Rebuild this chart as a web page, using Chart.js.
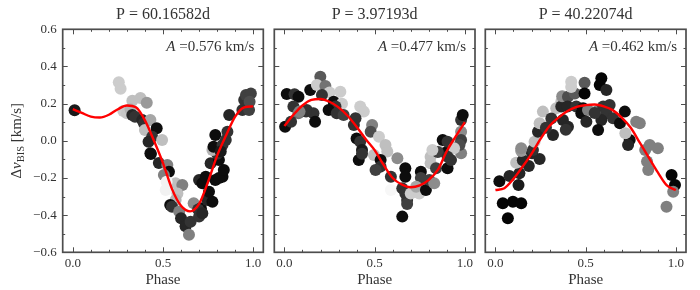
<!DOCTYPE html>
<html>
<head>
<meta charset="utf-8">
<script src="https://cdn.jsdelivr.net/npm/chart.js@4.4.0/dist/chart.umd.min.js"></script>
<style>
  html, body { margin: 0; padding: 0; background: #fff; }
  #wrap { position: relative; width: 700px; height: 290px; }
  #wrap canvas { position: absolute; left: 0; top: 0; }
</style>
</head>
<body>
<div id="wrap">
  <canvas id="panel1" width="700" height="290"></canvas>
  <canvas id="panel2" width="700" height="290"></canvas>
  <canvas id="panel3" width="700" height="290"></canvas>
</div>
<script>
// --- data ---
const periods = ['60.16582', '3.97193', '40.22074'];
const amplitudes = ['0.576', '0.477', '0.462'];
const xTicks = [0, 0.5, 1.0];
const xMinor = [0.1, 0.2, 0.3, 0.4, 0.6, 0.7, 0.8, 0.9];
const yTicks = [-0.6, -0.4, -0.2, 0, 0.2, 0.4, 0.6];
const yMinor = [-0.5, -0.3, -0.1, 0.1, 0.3, 0.5];

// panel 1 (P = 60.16582d), shade: 0 = black, 1 = white
const phase1 = [0.01, 0.255, 0.265, 0.33, 0.375, 0.41, 0.28, 0.30, 0.32, 0.33, 0.345, 0.385, 0.395, 0.43, 0.465, 0.40, 0.44, 0.495, 0.42, 0.43, 0.433, 0.477, 0.524, 0.533, 0.505, 0.57, 0.607, 0.515, 0.58, 0.57, 0.54, 0.55, 0.59, 0.60, 0.625, 0.653, 0.644, 0.67, 0.70, 0.71, 0.695, 0.718, 0.746, 0.774, 0.755, 0.70, 0.718, 0.737, 0.79, 0.83, 0.764, 0.81, 0.80, 0.774, 0.78, 0.79, 0.83, 0.848, 0.857, 0.867, 0.94, 0.95, 0.96, 0.987, 0.977, 0.81, 0.837, 0.82, 0.52, 0.98];
const dv1 = [0.165, 0.315, 0.28, 0.215, 0.23, 0.205, 0.16, 0.148, 0.17, 0.139, 0.13, 0.112, 0.094, 0.112, 0.067, 0.058, 0.022, 0.004, -0.005, -0.067, -0.071, -0.12, -0.13, -0.166, -0.184, -0.229, -0.238, -0.265, -0.283, -0.318, -0.345, -0.355, -0.38, -0.417, -0.46, -0.435, -0.505, -0.336, -0.408, -0.363, -0.37, -0.39, -0.318, -0.328, -0.274, -0.211, -0.229, -0.193, -0.211, -0.193, -0.121, -0.103, -0.07, -0.05, -0.032, 0.031, -0.023, 0.004, 0.049, 0.139, 0.166, 0.22, 0.246, 0.255, 0.166, -0.2, -0.157, -0.058, -0.22, 0.21];
const shade1 = [0.1, 0.8, 0.8, 0.75, 0.75, 0.6, 0.8, 0.78, 0.7, 0.15, 0.2, 0.15, 0.2, 0.65, 0.05, 0.75, 0.2, 0.75, 0.15, 0.1, 0.05, 0.15, 0.5, 0.05, 0.5, 0.75, 0.5, 0.95, 0.75, 0.7, 0.05, 0.2, 0.5, 0.15, 0.15, 0.2, 0.5, 0.55, 0.2, 0.05, 0.2, 0.15, 0.15, 0.05, 0.05, 0.15, 0.05, 0.05, 0.05, 0.05, 0.15, 0.05, 0.2, 0.7, 0.05, 0.05, 0.2, 0.2, 0.2, 0.15, 0.2, 0.2, 0.25, 0.25, 0.25, 0.05, 0.05, 0.1, 0.95, 0.3];

// panel 2 (P = 3.97193d)
const phase2 = [0.004, 0.013, 0.056, 0.078, 0.05, 0.078, 0.037, 0.143, 0.199, 0.18, 0.227, 0.25, 0.31, 0.208, 0.273, 0.319, 0.283, 0.245, 0.124, 0.161, 0.17, 0.29, 0.328, 0.42, 0.44, 0.394, 0.385, 0.40, 0.42, 0.486, 0.478, 0.524, 0.43, 0.56, 0.57, 0.626, 0.412, 0.43, 0.496, 0.533, 0.533, 0.505, 0.59, 0.67, 0.67, 0.59, 0.653, 0.67, 0.68, 0.68, 0.653, 0.70, 0.756, 0.756, 0.747, 0.73, 0.784, 0.803, 0.83, 0.81, 0.81, 0.84, 0.858, 0.904, 0.923, 0.90, 0.979, 0.85, 0.82, 0.877, 0.904, 0.979, 0.979, 0.97, 0.979, 0.988, 0.94, 0.904, 0.12, 0.084];
const dv2 = [0.076, 0.252, 0.25, 0.237, 0.184, 0.148, 0.103, 0.273, 0.345, 0.30, 0.295, 0.26, 0.264, 0.246, 0.21, 0.20, 0.184, 0.166, 0.166, 0.148, 0.103, 0.148, 0.139, 0.184, 0.157, 0.121, 0.085, 0.013, -0.005, 0.085, 0.049, 0.022, -0.05, -0.023, -0.058, -0.094, -0.103, -0.07, -0.076, -0.103, -0.139, -0.157, -0.193, -0.148, -0.193, -0.265, -0.256, -0.283, -0.318, -0.34, -0.408, -0.283, -0.166, -0.20, -0.283, -0.247, -0.265, -0.211, -0.229, -0.121, -0.086, -0.148, -0.058, -0.148, -0.103, -0.06, -0.067, -0.06, -0.05, 0.004, -0.005, 0.049, 0.004, -0.023, 0.112, 0.139, -0.04, -0.086, 0.157, 0.157];
const shade2 = [0.05, 0.05, 0.2, 0.05, 0.2, 0.45, 0.2, 0.05, 0.35, 0.8, 0.45, 0.8, 0.8, 0.2, 0.05, 0.8, 0.2, 0.05, 0.2, 0.2, 0.05, 0.2, 0.25, 0.8, 0.8, 0.2, 0.2, 0.05, 0.2, 0.5, 0.3, 0.8, 0.1, 0.75, 0.75, 0.55, 0.05, 0.2, 0.75, 0.05, 0.2, 0.25, 0.2, 0.05, 0.05, 0.97, 0.2, 0.2, 0.2, 0.25, 0.05, 0.8, 0.05, 0.25, 0.8, 0.65, 0.05, 0.25, 0.55, 0.75, 0.75, 0.25, 0.75, 0.05, 0.2, 0.05, 0.5, 0.25, 0.8, 0.05, 0.2, 0.55, 0.25, 0.3, 0.2, 0.05, 0.8, 0.2, 0.2, 0.5];

// panel 3 (P = 40.22074d)
const phase3 = [0.022, 0.041, 0.097, 0.143, 0.069, 0.078, 0.133, 0.128, 0.115, 0.152, 0.185, 0.143, 0.203, 0.245, 0.208, 0.143, 0.217, 0.236, 0.245, 0.263, 0.319, 0.337, 0.365, 0.365, 0.37, 0.402, 0.44, 0.42, 0.42, 0.494, 0.587, 0.578, 0.615, 0.494, 0.40, 0.448, 0.486, 0.476, 0.513, 0.56, 0.597, 0.633, 0.615, 0.587, 0.652, 0.69, 0.717, 0.78, 0.80, 0.569, 0.504, 0.374, 0.402, 0.39, 0.744, 0.72, 0.855, 0.90, 0.735, 0.83, 0.84, 0.847, 0.976, 0.995, 0.985, 0.948, 0.31, 0.28, 0.55];
const dv3 = [-0.218, -0.336, -0.328, -0.336, -0.417, -0.19, -0.175, -0.238, -0.118, -0.105, -0.135, -0.055, -0.067, -0.098, -0.05, -0.04, -0.005, 0.049, 0.094, 0.157, 0.031, 0.175, 0.21, 0.184, 0.24, 0.237, 0.255, 0.318, 0.29, 0.313, 0.336, 0.30, 0.273, 0.255, 0.184, 0.184, 0.175, 0.148, 0.166, 0.157, 0.184, 0.193, 0.148, 0.112, 0.121, 0.094, 0.157, 0.103, 0.094, 0.058, 0.103, 0.112, 0.076, 0.06, 0.004, 0.04, -0.023, -0.04, -0.023, -0.05, -0.112, -0.157, -0.184, -0.238, -0.274, -0.355, 0.12, 0.07, 0.15];
const shade3 = [0.05, 0.02, 0.02, 0.02, 0.02, 0.15, 0.15, 0.1, 0.75, 0.15, 0.15, 0.6, 0.15, 0.15, 0.2, 0.55, 0.75, 0.15, 0.75, 0.75, 0.15, 0.75, 0.75, 0.15, 0.55, 0.3, 0.35, 0.8, 0.8, 0.35, 0.02, 0.02, 0.15, 0.02, 0.15, 0.2, 0.05, 0.05, 0.5, 0.5, 0.2, 0.2, 0.2, 0.15, 0.2, 0.05, 0.05, 0.5, 0.5, 0.05, 0.15, 0.15, 0.15, 0.2, 0.05, 0.75, 0.5, 0.5, 0.15, 0.5, 0.5, 0.5, 0.02, 0.02, 0.5, 0.5, 0.2, 0.2, 0.2];

// fitted curves, sampled every 0.05 in phase
const curvePhase = [0, 0.05, 0.1, 0.15, 0.2, 0.25, 0.3, 0.35, 0.4, 0.45, 0.5, 0.55, 0.6, 0.65, 0.7, 0.75, 0.8, 0.85, 0.9, 0.95, 1.0];
const curve1 = [0.17, 0.15, 0.13, 0.125, 0.14, 0.17, 0.19, 0.18, 0.11, 0.0, -0.12, -0.26, -0.35, -0.38, -0.34, -0.22, -0.08, 0.03, 0.13, 0.18, 0.185];
const curve2 = [0.08, 0.14, 0.19, 0.22, 0.225, 0.21, 0.18, 0.135, 0.076, 0.01, -0.05, -0.13, -0.20, -0.235, -0.25, -0.24, -0.21, -0.157, -0.055, 0.025, 0.10];
const curve3 = [-0.265, -0.255, -0.205, -0.14, -0.07, 0.01, 0.08, 0.125, 0.16, 0.183, 0.192, 0.195, 0.185, 0.165, 0.125, 0.07, -0.01, -0.09, -0.17, -0.24, -0.265];

// --- layout ---
const W = 700, H = 290;
const areas = [[62.7, 263.3], [274.3, 475], [485.3, 686]];
const TOP = 29.3, BOTTOM = 252.3;
const FONT = "'Liberation Serif', 'Times New Roman', serif";
const TXT = '#333';
const SPINE = '#4d4d4d';

function grey(s) {
  const v = Math.round(s * 255);
  return 'rgb(' + v + ',' + v + ',' + v + ')';
}

// frame, inward ticks on all sides, amplitude note and y label
const framePlugin = {
  id: 'frame',
  afterDraw(chart, args, opts) {
    const ctx = chart.ctx;
    const a = chart.chartArea;
    const xs = chart.scales.x, ys = chart.scales.y;
    ctx.save();
    ctx.strokeStyle = SPINE;
    ctx.lineWidth = 1;
    const tick = (vals, len, horiz) => {
      vals.forEach(v => {
        ctx.beginPath();
        if (horiz) {
          const p = Math.round(xs.getPixelForValue(v)) + 0.5;
          ctx.moveTo(p, a.bottom); ctx.lineTo(p, a.bottom - len);
          ctx.moveTo(p, a.top); ctx.lineTo(p, a.top + len);
        } else {
          const p = Math.round(ys.getPixelForValue(v)) + 0.5;
          ctx.moveTo(a.left, p); ctx.lineTo(a.left + len, p);
          ctx.moveTo(a.right, p); ctx.lineTo(a.right - len, p);
        }
        ctx.stroke();
      });
    };
    tick(xTicks, 5, true);
    tick(xMinor, 2.5, true);
    tick(yTicks, 5, false);
    tick(yMinor, 2.5, false);
    ctx.lineWidth = 1.7;
    ctx.strokeRect(a.left, a.top, a.right - a.left, a.bottom - a.top);

    // amplitude note
    ctx.fillStyle = TXT;
    ctx.textBaseline = 'alphabetic';
    ctx.font = '15px ' + FONT;
    const rest = ' =' + opts.amp + ' km/s';
    const wRest = ctx.measureText(rest).width;
    ctx.font = 'italic 15px ' + FONT;
    const wA = ctx.measureText('A').width;
    const x0 = a.right - 9 - wRest - wA;
    const by = a.top + 22;
    ctx.fillText('A', x0, by);
    ctx.font = '15px ' + FONT;
    ctx.fillText(rest, x0 + wA, by);

    // y axis label on the first panel
    if (opts.ylabel) {
      const parts = [
        ['Δ', '15px ' + FONT, 0],
        ['v', 'italic 15px ' + FONT, 0],
        ['BIS', '10.5px ' + FONT, 3],
        [' [km/s]', '15px ' + FONT, 0]
      ];
      let total = 0;
      parts.forEach(p => { ctx.font = p[1]; total += ctx.measureText(p[0]).width; });
      ctx.translate(21, (a.top + a.bottom) / 2);
      ctx.rotate(-Math.PI / 2);
      let x = -total / 2;
      parts.forEach(p => {
        ctx.font = p[1];
        ctx.fillText(p[0], x, p[2]);
        x += ctx.measureText(p[0]).width;
      });
    }
    ctx.restore();
  }
};

function makePanel(id, i, phase, dv, shade, curve) {
  const left = areas[i][0], right = areas[i][1];
  const first = i === 0;
  return new Chart(document.getElementById(id), {
    type: 'scatter',
    data: {
      datasets: [
        {
          data: curvePhase.map((x, k) => ({ x: x, y: curve[k] })),
          showLine: true,
          borderColor: '#ff0000',
          borderWidth: 2.4,
          pointRadius: 0,
          cubicInterpolationMode: 'monotone',
          fill: false,
          order: 0
        },
        {
          data: phase.map((x, k) => ({ x: x, y: dv[k] })),
          backgroundColor: shade.map(grey),
          pointBackgroundColor: shade.map(grey),
          pointBorderWidth: 0,
          pointRadius: 6,
          order: 1
        }
      ]
    },
    options: {
      responsive: false,
      animation: false,
      devicePixelRatio: 1,
      layout: { padding: { left: first ? 0 : left, right: W - right, top: 0, bottom: 0 } },
      plugins: {
        legend: { display: false },
        tooltip: { enabled: false },
        title: {
          display: true,
          text: 'P = ' + periods[i] + 'd',
          fullSize: false,
          color: TXT,
          font: { family: FONT, size: 16, weight: 'normal' },
          padding: { top: 5, bottom: 5.1 }
        },
        frame: { amp: amplitudes[i], ylabel: first }
      },
      scales: {
        x: {
          type: 'linear',
          position: 'bottom',
          min: -0.056,
          max: 1.056,
          grid: { display: false, drawTicks: false },
          border: { display: false },
          afterBuildTicks: s => { s.ticks = xTicks.map(v => ({ value: v })); },
          afterFit: s => { s.height = H - BOTTOM; },
          ticks: {
            autoSkip: false,
            maxRotation: 0,
            padding: 3,
            color: TXT,
            font: { family: FONT, size: 13 },
            callback: v => v.toFixed(1)
          },
          title: {
            display: true,
            text: 'Phase',
            color: TXT,
            font: { family: FONT, size: 15 },
            padding: { top: 0, bottom: 1 }
          }
        },
        y: {
          type: 'linear',
          display: first,
          min: -0.6,
          max: 0.6,
          grid: { display: false, drawTicks: false },
          border: { display: false },
          afterBuildTicks: s => { s.ticks = yTicks.map(v => ({ value: v })); },
          afterFit: s => { if (first) s.width = left; },
          ticks: {
            padding: 6,
            color: TXT,
            font: { family: FONT, size: 13 },
            callback: v => v.toFixed(1).replace('-', '\u2212')
          }
        }
      }
    },
    plugins: [framePlugin]
  });
}

makePanel('panel1', 0, phase1, dv1, shade1, curve1);
makePanel('panel2', 1, phase2, dv2, shade2, curve2);
makePanel('panel3', 2, phase3, dv3, shade3, curve3);
</script>
</body>
</html>
